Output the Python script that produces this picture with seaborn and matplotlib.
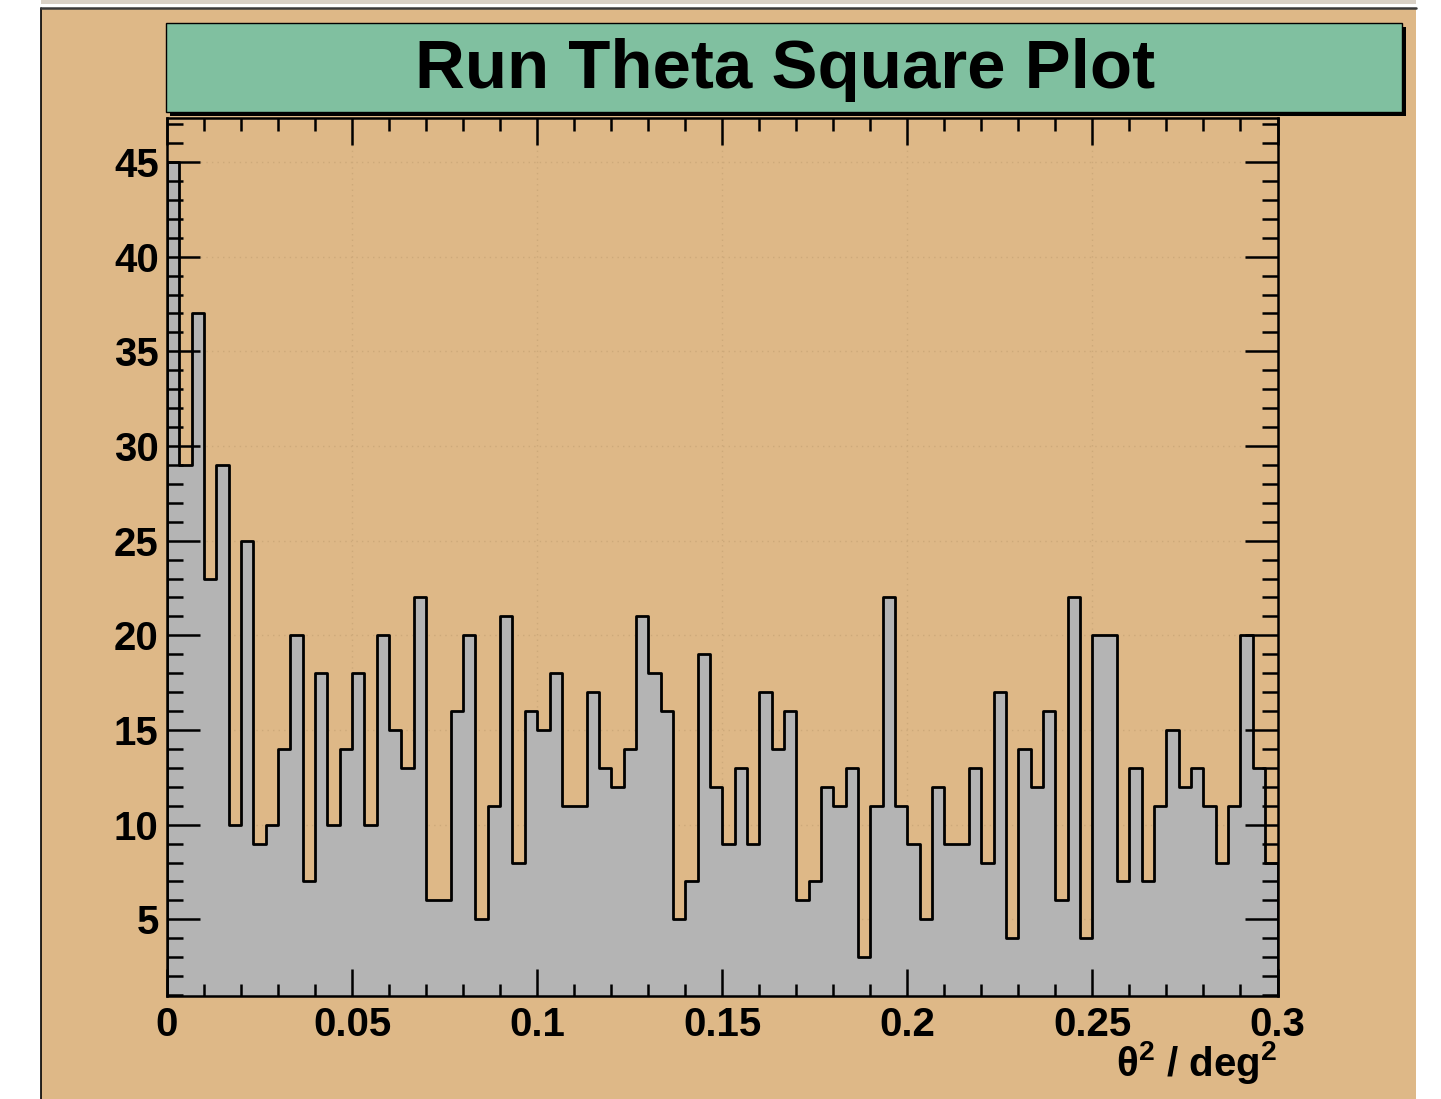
import numpy as np
import pandas as pd
import matplotlib
matplotlib.use("Agg")
import matplotlib.pyplot as plt
from matplotlib.patches import Rectangle
from matplotlib.lines import Line2D
from matplotlib.ticker import FixedLocator, MultipleLocator
import seaborn as sns

# ---------------- data ----------------
title = "Run Theta Square Plot"
x_label = "θ$^{\\mathbf{2}}$ / deg$^{\\mathbf{2}}$"
x_min, x_max, n_bins = 0.0, 0.3, 90
counts = [45, 29, 37, 23, 29, 10, 25, 9, 10, 14,
          20, 7, 18, 10, 14, 18, 10, 20, 15, 13,
          22, 6, 6, 16, 20, 5, 11, 21, 8, 16,
          15, 18, 11, 11, 17, 13, 12, 14, 21, 18,
          16, 5, 7, 19, 12, 9, 13, 9, 17, 14,
          16, 6, 7, 12, 11, 13, 3, 11, 22, 11,
          9, 5, 12, 9, 9, 13, 8, 17, 4, 14,
          12, 16, 6, 22, 4, 20, 20, 7, 13, 7,
          11, 15, 12, 13, 11, 8, 11, 20, 13, 8]
x_ticks = [0, 0.05, 0.1, 0.15, 0.2, 0.25, 0.3]
x_tick_labels = ["0", "0.05", "0.1", "0.15", "0.2", "0.25", "0.3"]
y_ticks = [5, 10, 15, 20, 25, 30, 35, 40, 45]
y_tick_labels = ["5", "10", "15", "20", "25", "30", "35", "40", "45"]
y_range = (0.95, 47.34)

# ---------------- style ----------------
sns.set_style("ticks")
plt.rcParams["font.family"] = ["Liberation Sans", "DejaVu Sans"]
plt.rcParams["mathtext.fontset"] = "custom"
plt.rcParams["mathtext.rm"] = "Liberation Sans"
plt.rcParams["mathtext.bf"] = "Liberation Sans:bold"
plt.rcParams["text.color"] = "black"
plt.rcParams["axes.labelcolor"] = "black"
plt.rcParams["xtick.color"] = "black"
plt.rcParams["ytick.color"] = "black"

TAN = "#DEB887"
GREEN = "#80C0A0"
GRAY = "#B4B4B4"

W, H = 1441, 1099
fig = plt.figure(figsize=(W / 100, H / 100), dpi=100, facecolor="white")


def fx(px):
    return px / W


def fy(py):
    return 1 - py / H


# canvas panel (drawn behind the axes)
fig.patches.append(Rectangle((fx(41), 0), fx(1416) - fx(41), fy(8), transform=fig.transFigure,
                             facecolor=TAN, edgecolor="none", zorder=-10))
fig.patches.append(Rectangle((fx(41), fy(4)), fx(1416) - fx(41), fy(0) - fy(4), transform=fig.transFigure,
                             facecolor="#d9d1c6", edgecolor="none", zorder=-10))
fig.lines.append(Line2D([fx(41), fx(41)], [0, fy(8)], transform=fig.transFigure, color="black",
                        lw=1.2, zorder=-9))
fig.lines.append(Line2D([fx(41), fx(1416)], [fy(8), fy(8)], transform=fig.transFigure, color="#3a3a3a",
                        lw=1.8, zorder=-9))

# title box with shadow
fig.patches.append(Rectangle((fx(170), fy(116)), fx(1406) - fx(170), fy(27) - fy(116), transform=fig.transFigure,
                             facecolor="black", edgecolor="none", zorder=1))
fig.patches.append(Rectangle((fx(166), fy(112)), fx(1402) - fx(166), fy(23) - fy(112), transform=fig.transFigure,
                             facecolor=GREEN, edgecolor="black", linewidth=1.0, zorder=2))
fig.text(fx(785), fy(88), title, ha="center", va="baseline", fontsize=49.7,
         fontweight="bold", color="black", zorder=3)

# axes
ax = fig.add_axes([fx(167), fy(996), fx(1277.5) - fx(167), fy(117.7) - fy(996)])
ax.set_facecolor(TAN)

# faint dotted grid, kept underneath the histogram
for xv in x_ticks:
    ax.axvline(xv, linestyle=(0, (1, 3)), color="#cda97a", linewidth=1.0, zorder=0.2)
for yv in y_ticks:
    ax.axhline(yv, linestyle=(0, (1, 3)), color="#cda97a", linewidth=1.0, zorder=0.2)

edges = np.linspace(x_min, x_max, n_bins + 1)
centers = 0.5 * (edges[:-1] + edges[1:])
df = pd.DataFrame({"theta2": centers, "events": counts})
sns.histplot(data=df, x="theta2", weights="events", bins=n_bins, binrange=(x_min, x_max),
             element="step", fill=True,
             color=GRAY, facecolor=GRAY, edgecolor="black", linewidth=2.0, alpha=1.0, ax=ax)

ax.set_xlim(x_min, x_max)
ax.set_ylim(*y_range)
ax.set_xlabel("")
ax.set_ylabel("")

ax.xaxis.set_major_locator(FixedLocator(x_ticks))
ax.xaxis.set_minor_locator(MultipleLocator(0.01))
ax.yaxis.set_major_locator(FixedLocator(y_ticks))
ax.yaxis.set_minor_locator(MultipleLocator(1))
ax.set_xticklabels(x_tick_labels, fontsize=29, fontweight="bold", color="black")
ax.set_yticklabels(y_tick_labels, fontsize=29, fontweight="bold", color="black")

ax.tick_params(which="both", direction="in", top=True, right=True, width=1.8, color="black",
               labelcolor="black")
ax.tick_params(axis="x", which="major", length=19.5, pad=7)
ax.tick_params(axis="x", which="minor", length=9)
ax.tick_params(axis="y", which="major", length=24, pad=6)
ax.tick_params(axis="y", which="minor", length=11.5)

for s in ax.spines.values():
    s.set_linewidth(1.8)
    s.set_color("black")
    s.set_visible(True)

ax.grid(False)
ax.set_axisbelow(False)

ax.set_xlabel(x_label, fontsize=29, fontweight="bold", ha="right", va="baseline", color="black")
ax.xaxis.set_label_coords(1.0, -(1076 - 996) / (996 - 117.7))

fig.savefig("out.png", dpi=100, facecolor="white")
